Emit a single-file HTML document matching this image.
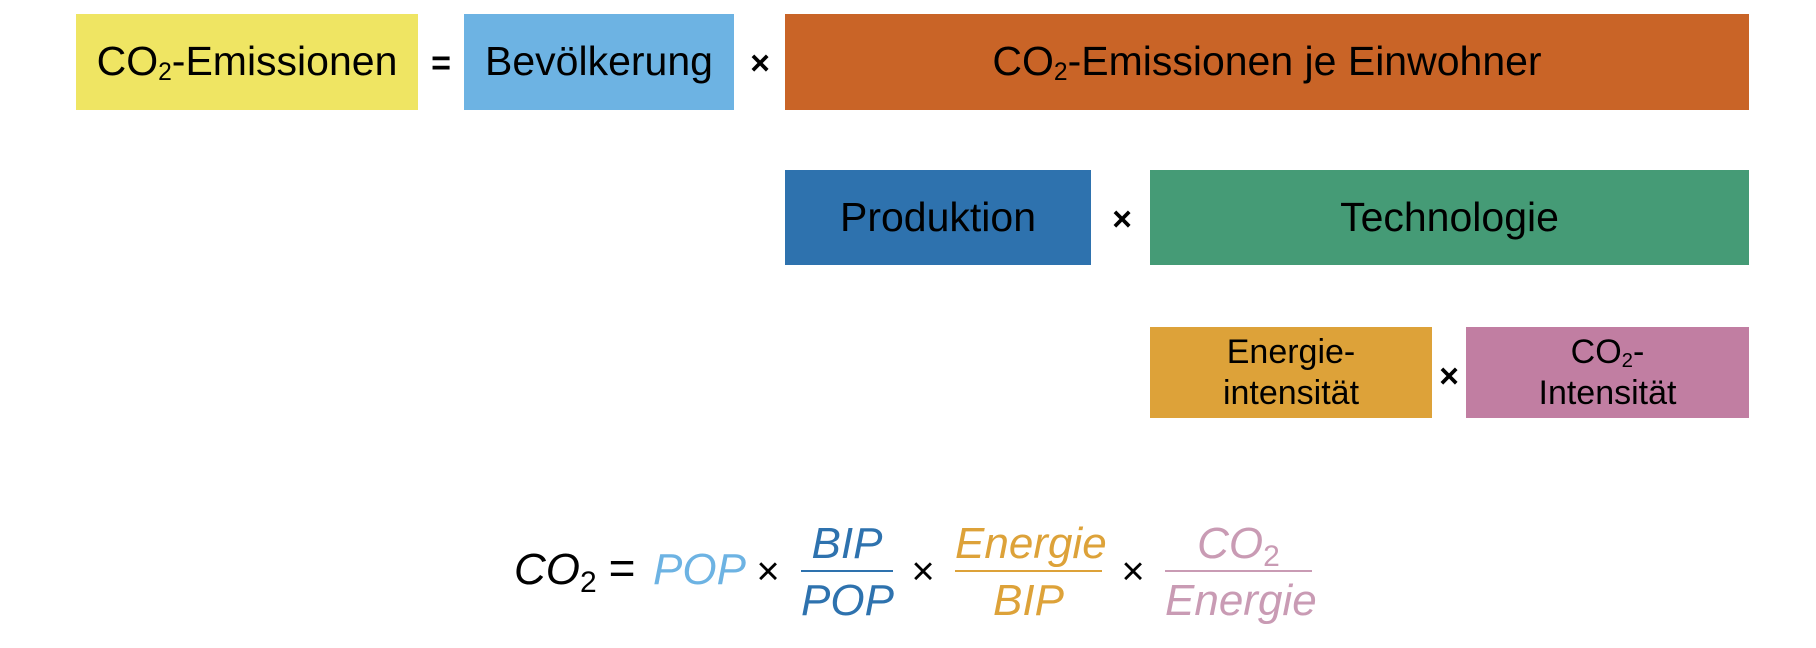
<!DOCTYPE html><html><head><meta charset="utf-8"><style>
body{margin:0;width:1816px;height:648px;background:#fff;position:relative;overflow:hidden;font-family:"Liberation Sans",sans-serif}
.b{position:absolute;display:flex;align-items:center;justify-content:center;text-align:center;color:#000;font-size:41px;line-height:1.05}
.o{position:absolute;font-size:34px;font-weight:bold;transform:translate(-50%,-50%)}
.f{position:absolute;font-style:italic;font-size:44px;line-height:1}
.s{font-size:0.6em;position:relative;top:0.2em}
.m{position:absolute;font-size:40px;transform:translate(-50%,-50%)}
</style></head><body>
<div class="b" style="left:76px;top:14px;width:342px;height:96px;background:#efe563"><span>CO<span class="s">2</span>-Emissionen</span></div>
<div class="o" style="left:441px;top:64px">=</div>
<div class="b" style="left:464px;top:14px;width:270px;height:96px;background:#6db3e3"><span>Bevölkerung</span></div>
<div class="o" style="left:760px;top:64px">×</div>
<div class="b" style="left:785px;top:14px;width:964px;height:96px;background:#c96427"><span>CO<span class="s">2</span>-Emissionen je Einwohner</span></div>
<div class="b" style="left:785px;top:170px;width:306px;height:95px;background:#2e72ae"><span>Produktion</span></div>
<div class="o" style="left:1122px;top:220px">×</div>
<div class="b" style="left:1150px;top:170px;width:599px;height:95px;background:#459b76"><span>Technologie</span></div>
<div class="b" style="left:1150px;top:327px;width:282px;height:91px;background:#dda239;font-size:34px;line-height:1.2"><span>Energie-<br>intensität</span></div>
<div class="o" style="left:1449px;top:377px">×</div>
<div class="b" style="left:1466px;top:327px;width:283px;height:91px;background:#c17ea2;font-size:34px;line-height:1.2"><span>CO<span class="s">2</span>-<br>Intensität</span></div>

<div class="f" style="left:514px;top:548px">CO<span style="font-style:normal;font-size:30px;position:relative;top:8px">2</span></div>
<div class="m" style="left:622px;top:568px;font-size:46px">=</div>
<div class="f" style="left:653px;top:548px;color:#6db3e3">POP</div>
<div class="m" style="left:768px;top:572px">×</div>
<div class="f" style="left:801px;top:522px;width:92px;text-align:center;color:#2e72ae">BIP</div>
<div style="position:absolute;left:801px;top:570px;width:92px;height:2px;background:#2e72ae"></div>
<div class="f" style="left:801px;top:579px;width:92px;text-align:center;color:#2e72ae">POP</div>
<div class="m" style="left:923px;top:572px">×</div>
<div class="f" style="left:955px;top:522px;width:147px;text-align:center;color:#dda239">Energie</div>
<div style="position:absolute;left:955px;top:570px;width:147px;height:2px;background:#dda239"></div>
<div class="f" style="left:955px;top:579px;width:147px;text-align:center;color:#dda239">BIP</div>
<div class="m" style="left:1133px;top:572px">×</div>
<div class="f" style="left:1165px;top:522px;width:147px;text-align:center;color:#c99bb4">CO<span style="font-style:normal;font-size:30px;position:relative;top:8px">2</span></div>
<div style="position:absolute;left:1165px;top:570px;width:147px;height:2px;background:#c99bb4"></div>
<div class="f" style="left:1165px;top:579px;width:147px;text-align:center;color:#c99bb4">Energie</div>
</body></html>
